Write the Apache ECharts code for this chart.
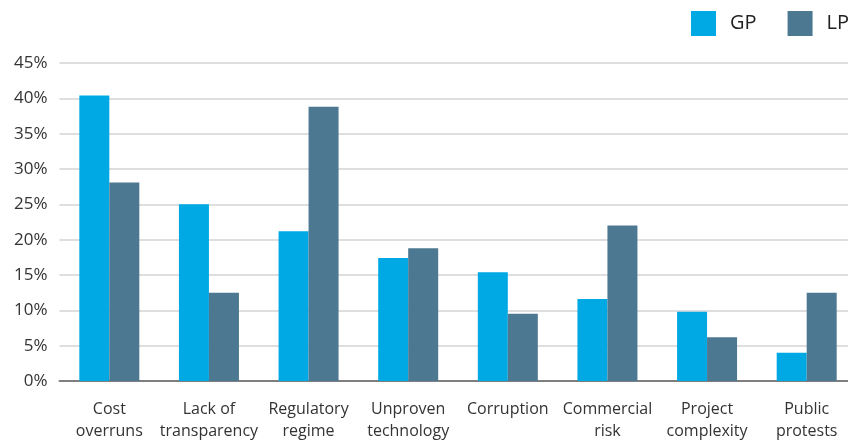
<!DOCTYPE html>
<html>
<head>
<meta charset="utf-8">
<script src="https://cdn.jsdelivr.net/npm/echarts@6/dist/echarts.min.js"></script>
<style>
  html, body { margin: 0; padding: 0; background: #fff; }
  #chart { width: 848px; height: 442px; }
</style>
</head>
<body>
<div id="chart"></div>
<script>
// Risk categories (two-line labels)
const categories = [
  'Cost\noverruns', 'Lack of\ntransparency', 'Regulatory\nregime', 'Unproven\ntechnology',
  'Corruption', 'Commercial\nrisk', 'Project\ncomplexity', 'Public\nprotests'
];
// Share of respondents citing each risk (%)
const gpValues = [40.4, 25.0, 21.2, 17.4, 15.4, 11.6, 9.8, 4.0];
const lpValues = [28.1, 12.5, 38.8, 18.8, 9.5, 22.0, 6.2, 12.5];
// Value axis ticks
const yMin = 0, yMax = 45, yStep = 5;

const FONT = '"Open Sans", "Noto Sans", sans-serif';
const chart = echarts.init(document.getElementById('chart'), null, { renderer: 'canvas' });

chart.setOption({
  animation: false,
  backgroundColor: '#ffffff',
  textStyle: { fontFamily: FONT },
  legend: {
    left: 691,
    top: 11,
    padding: 0,
    width: 400,
    itemWidth: 25,
    itemHeight: 25,
    itemGap: 31,
    icon: 'rect',
    textStyle: { fontSize: 20, color: '#222', fontFamily: FONT, padding: [0, 0, 0, 9] },
    data: ['GP', 'LP']
  },
  grid: {
    left: 59.5, top: 63, width: 797, height: 318,
    containLabel: false,
    outerBoundsMode: 'none'
  },
  xAxis: {
    type: 'category',
    data: categories,
    axisTick: { show: false },
    axisLine: { lineStyle: { color: '#7f7f7f', width: 2 } },
    axisLabel: {
      interval: 0,
      margin: 17,
      color: '#333',
      fontSize: 16,
      lineHeight: 22,
      fontFamily: FONT
    }
  },
  yAxis: {
    type: 'value',
    min: yMin,
    max: yMax,
    interval: yStep,
    axisLine: { show: false },
    axisTick: { show: false },
    axisLabel: {
      formatter: '{value}%',
      color: '#333',
      fontSize: 17,
      margin: 12,
      fontFamily: FONT
    },
    splitLine: { lineStyle: { color: '#dedede', width: 2 } }
  },
  series: [
    {
      name: 'GP', type: 'bar', data: gpValues,
      barWidth: 30, barGap: '0%',
      itemStyle: { color: '#00a9e4' }
    },
    {
      name: 'LP', type: 'bar', data: lpValues,
      barWidth: 30, barGap: '0%',
      itemStyle: { color: '#4d7891' }
    }
  ]
});
</script>
</body>
</html>
